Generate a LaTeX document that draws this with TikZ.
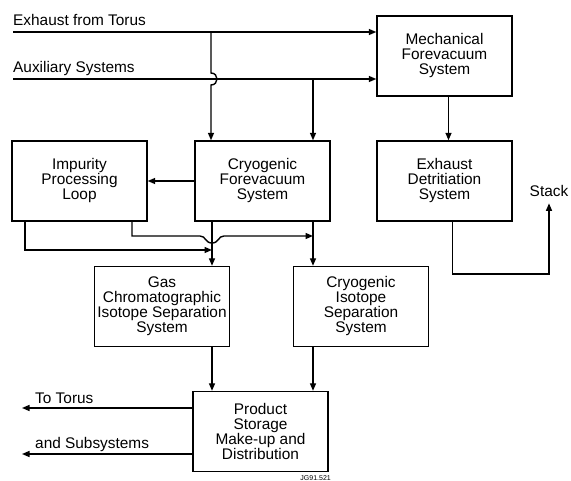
\documentclass[tikz,border=0pt]{standalone}
\usepackage{fontspec}
\setmainfont{Liberation Sans}
\usetikzlibrary{arrows.meta}

\tikzset{
    unit/.style={draw, line width=1.4pt, minimum width=135pt, minimum height=80pt,
        align=center, inner sep=0pt, font=\fontsize{15.4}{15}\selectfont},
    flow/.style={line width=1.4pt, -{Triangle[length=7.5pt, width=6pt]}},
    tag/.style={inner sep=0pt, font=\fontsize{15.4}{15}\selectfont},
}

\begin{document}
\begin{tikzpicture}[x=1pt, y=-1pt]

    \useasboundingbox (0,0) rectangle (571,481);

    % plant units
    \node[unit] (mech) at (444.5,56)  {Mechanical\\Forevacuum\\System};
    \node[unit] (cfv)  at (262.5,181) {Cryogenic\\Forevacuum\\System};
    \node[unit] (ipl)  at (79.5,181)  {Impurity\\Processing\\Loop};
    \node[unit] (edt)  at (444.5,181) {Exhaust\\Detritiation\\System};
    \node[unit] (gcs)  at (162,306.5) {Gas\\Chromatographic\\Isotope Separation\\System};
    \node[unit] (cis)  at (361,306.5) {Cryogenic\\Isotope\\Separation\\System};
    \node[unit] (psd)  at (260.5,431.5) {Product\\Storage\\Make-up and\\Distribution};

    % free ends and labels
    \coordinate (exin) at (13,32);
    \coordinate (auxin) at (13,79);
    \coordinate (exsplit) at (211,32);
    \coordinate (auxsplit) at (313,79);
    \coordinate (gcin) at (212,250);
    \coordinate (cisin) at (313,236);
    \coordinate (stackturn) at (549,274);
    \coordinate (totorus) at (22,408);
    \coordinate (tosub) at (22,454);
    \node[tag, anchor=base west] (exlbl) at (13,26) {Exhaust from Torus};
    \node[tag, anchor=base west] (auxlbl) at (13,73) {Auxiliary Systems};
    \node[tag, anchor=base, inner sep=6pt] (stack) at (549,197) {Stack};
    \node[tag, anchor=base west] (toruslbl) at (35,403) {To Torus};
    \node[tag, anchor=base west] (sublbl) at (35,448) {and Subsystems};
    \node[inner sep=0pt, anchor=base east, font=\fontsize{7}{8}\selectfont] (ref) at (331,480) {JG91.521};

    % incoming gas
    \draw[flow] (exin) -- (exin -| mech.west);
    \draw[flow] (auxin) -- (auxin -| mech.west);
    \draw[flow] (exsplit) -- (211,73) .. controls (219,73) and (219,85) .. (211,85) -- (exsplit |- cfv.north);
    \draw[flow] (auxsplit) -- (auxsplit |- cfv.north);
    \draw[flow] ([xshift=4pt]mech.south) -- ([xshift=4pt]mech.south |- edt.north);

    % forevacuum outlets
    \draw[flow] (cfv.west) -- (ipl.east);
    \draw[flow] (cfv.south -| gcin) -- (gcin |- gcs.north);
    \draw[flow] (cfv.south -| cisin) -- (cisin |- cis.north);
    \draw[flow] ([xshift=8pt]edt.south) |- (stackturn) -- (stack.south);

    % impurity loop returns
    \draw[flow] (ipl.south -| 25,0) |- (gcin);
    \draw[flow] (ipl.south -| 132,0) |- (200,236) .. controls (206,236) and (205,243) .. (212,243)
        .. controls (219,243) and (218,236) .. (224,236) -- (cisin);

    % to storage
    \draw[flow] (gcs.south -| gcin) -- (gcin |- psd.north);
    \draw[flow] (cis.south -| cisin) -- (cisin |- psd.north);
    \draw[flow] (psd.west |- totorus) -- (totorus);
    \draw[flow] (psd.west |- tosub) -- (tosub);

\end{tikzpicture}
\end{document}
